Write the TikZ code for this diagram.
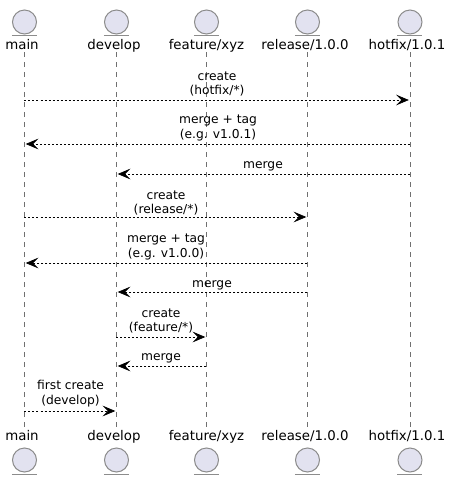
\documentclass[tikz,border=0pt]{standalone}
\usepackage{fontspec}
\setmainfont{DejaVu Sans}
\usepackage{xcolor}
\usepackage{tikz}
\usetikzlibrary{arrows.meta}
\definecolor{headfill}{HTML}{E2E2F0}
\definecolor{headline}{HTML}{8C8C8C}
\definecolor{lifegray}{HTML}{707070}
\tikzset{
    headdot/.style={circle,draw=headline,fill=headfill,line width=0.75pt,minimum size=18pt,inner sep=0pt},
    branchname/.style={inner sep=0pt,font=\fontsize{10}{10}\selectfont,text height=7.6pt,text depth=2.2pt},
    msgtext/.style={inner sep=0pt,align=center,font=\fontsize{9.2}{11.2}\selectfont},
    lifeline/.style={lifegray,line width=0.5pt,dash pattern=on 3.75pt off 3.75pt},
    msg/.style={black,line width=0.5pt,dash pattern=on 1.5pt off 1.5pt,-{Stealth[length=9.5pt,width=8pt,inset=4pt]},shorten >=0.9pt}
}

\begin{document}
\begin{tikzpicture}[x=0.75pt,y=-0.75pt]
    \useasboundingbox (0,0) rectangle (455,480);

    % Heads on top
    \node[headdot] (mainTop) at (24.5,22) {};
    \node[headdot] (developTop) at (116.5,22) {};
    \node[headdot] (featureTop) at (206.5,22) {};
    \node[headdot] (releaseTop) at (307.5,22) {};
    \node[headdot] (hotfixTop) at (410,22) {};
    \draw[headline,line width=0.75pt] (mainTop.west |- 0,35) -- (mainTop.east |- 0,35);
    \draw[headline,line width=0.75pt] (developTop.west |- 0,35) -- (developTop.east |- 0,35);
    \draw[headline,line width=0.75pt] (featureTop.west |- 0,35) -- (featureTop.east |- 0,35);
    \draw[headline,line width=0.75pt] (releaseTop.west |- 0,35) -- (releaseTop.east |- 0,35);
    \draw[headline,line width=0.75pt] (hotfixTop.west |- 0,35) -- (hotfixTop.east |- 0,35);

    % Names on top
    \node[branchname] (mainName) at (22,46) {main};
    \node[branchname] (developName) at (114,46) {develop};
    \node[branchname] (featureName) at (206.5,46) {feature/xyz};
    \node[branchname] (releaseName) at (305,46) {release/1.0.0};
    \node[branchname] (hotfixName) at (407,46) {hotfix/1.0.1};

    % Names at the bottom
    \node[branchname] (mainNameB) at (22,437) {main};
    \node[branchname] (developNameB) at (114,437) {develop};
    \node[branchname] (featureNameB) at (206.5,437) {feature/xyz};
    \node[branchname] (releaseNameB) at (305,437) {release/1.0.0};
    \node[branchname] (hotfixNameB) at (407,437) {hotfix/1.0.1};

    % Heads at the bottom
    \node[headdot] (mainBottom) at (24.5,460) {};
    \node[headdot] (developBottom) at (116.5,460) {};
    \node[headdot] (featureBottom) at (206.5,460) {};
    \node[headdot] (releaseBottom) at (307.5,460) {};
    \node[headdot] (hotfixBottom) at (410,460) {};
    \draw[headline,line width=0.75pt] (mainBottom.west |- 0,474) -- (mainBottom.east |- 0,474);
    \draw[headline,line width=0.75pt] (developBottom.west |- 0,474) -- (developBottom.east |- 0,474);
    \draw[headline,line width=0.75pt] (featureBottom.west |- 0,474) -- (featureBottom.east |- 0,474);
    \draw[headline,line width=0.75pt] (releaseBottom.west |- 0,474) -- (releaseBottom.east |- 0,474);
    \draw[headline,line width=0.75pt] (hotfixBottom.west |- 0,474) -- (hotfixBottom.east |- 0,474);

    % Lifelines
    \coordinate (mainA) at (24.5,52);
    \coordinate (mainB) at (24.5,429);
    \coordinate (developA) at (116.5,52);
    \coordinate (developB) at (116.5,429);
    \coordinate (featureA) at (206.5,52);
    \coordinate (featureB) at (206.5,429);
    \coordinate (releaseA) at (307.5,52);
    \coordinate (releaseB) at (307.5,429);
    \coordinate (hotfixA) at (410,52);
    \coordinate (hotfixB) at (410,429);
    \draw[lifeline] (mainA) -- (mainB);
    \draw[lifeline] (developA) -- (developB);
    \draw[lifeline] (featureA) -- (featureB);
    \draw[lifeline] (releaseA) -- (releaseB);
    \draw[lifeline] (hotfixA) -- (hotfixB);

    % Create hotfix
    \coordinate (m1a) at (24.5,100);
    \coordinate (m1b) at (410,100);
    \draw[msg] (m1a) -- (m1b);
    \node[msgtext] (t1) at (217,84) {create\\(hotfix/*)};

    % Merge hotfix
    \coordinate (m2a) at (410,144);
    \coordinate (m2b) at (24.5,144);
    \draw[msg] (m2a) -- (m2b);
    \node[msgtext] (t2) at (218,128) {merge + tag\\(e.g. v1.0.1)};
    \coordinate (m3a) at (410,174);
    \coordinate (m3b) at (116.5,174);
    \draw[msg] (m3a) -- (m3b);
    \node[msgtext] (t3) at (263,166.5) {merge};

    % Create release
    \coordinate (m4a) at (24.5,217);
    \coordinate (m4b) at (307.5,217);
    \draw[msg] (m4a) -- (m4b);
    \node[msgtext] (t4) at (166,203) {create\\(release/*)};

    % Merge release
    \coordinate (m5a) at (307.5,263);
    \coordinate (m5b) at (24.5,263);
    \draw[msg] (m5a) -- (m5b);
    \node[msgtext] (t5) at (166,247) {merge + tag\\(e.g. v1.0.0)};
    \coordinate (m6a) at (307.5,292);
    \coordinate (m6b) at (116.5,292);
    \draw[msg] (m6a) -- (m6b);
    \node[msgtext] (t6) at (212,285.5) {merge};

    % Feature
    \coordinate (m7a) at (116.5,337);
    \coordinate (m7b) at (206.5,337);
    \draw[msg] (m7a) -- (m7b);
    \node[msgtext] (t7) at (161,321) {create\\(feature/*)};
    \coordinate (m8a) at (206.5,366);
    \coordinate (m8b) at (116.5,366);
    \draw[msg] (m8a) -- (m8b);
    \node[msgtext] (t8) at (161,358.5) {merge};

    % Develop
    \coordinate (m9a) at (24.5,411);
    \coordinate (m9b) at (116.5,411);
    \draw[msg] (m9a) -- (m9b);
    \node[msgtext] (t9) at (70.5,394) {first create\\(develop)};
\end{tikzpicture}
\end{document}
